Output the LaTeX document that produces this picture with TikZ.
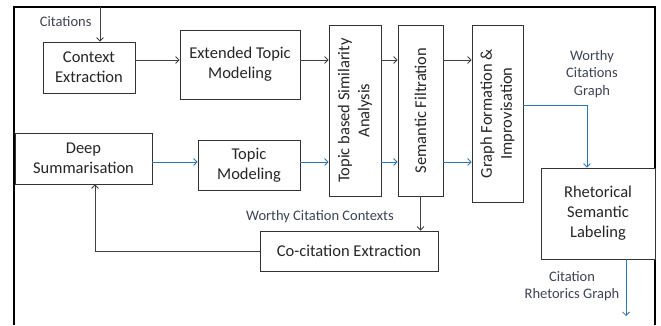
\documentclass[tikz,border=0pt]{standalone}
\usepackage{fontspec}
\setmainfont{Carlito}
\usetikzlibrary{arrows,arrows.meta,calc}
\definecolor{flowblue}{RGB}{46,117,182}
\definecolor{labelgray}{RGB}{62,66,84}

\begin{document}
\begin{tikzpicture}[x=1pt,y=-1pt,
  box/.style={draw=black!80,line width=0.8pt,fill=white,align=center,inner sep=2pt,font=\fontsize{16.5}{20}\selectfont,text=black!85},
  lbl/.style={align=center,text=labelgray,font=\fontsize{14.5}{17.5}\selectfont},
  flow/.style={draw=black!75,line width=0.8pt,-{Straight Barb[length=3.5pt,width=7pt]}},
  blueflow/.style={flow,draw=flowblue}]
\useasboundingbox (0,0) rectangle (661,325);
\draw[line width=1.8pt] (14,325) -- (14,7) -- (655,7) -- (655,325);

\coordinate[] (cite) at (100,7);
\coordinate[] (rowA) at (0,60);
\coordinate[] (rowB) at (0,162);
\coordinate[] (tap) at (587,105);
\coordinate[] (ret) at (95,251);
\coordinate[] (out) at (626,316);

\node[box,minimum width=92,minimum height=51] (ctx) at (89,67.5) {Context\\Extraction};
\node[box,minimum width=120,minimum height=69] (ext) at (240,64.5) {Extended Topic\\Modeling};
\node[box,rotate=90,minimum width=171,minimum height=52] (sim) at (355,110.5) {Topic based Similarity\\Analysis};
\node[box,rotate=90,minimum width=171,minimum height=45] (sem) at (420.5,110.5) {Semantic Filtration};
\node[box,rotate=90,minimum width=177,minimum height=51] (grf) at (497.5,113.5) {Graph Formation \&\\Improvisation};
\node[box,minimum width=137,minimum height=51] (deep) at (83.5,158.5) {Deep\\Summarisation};
\node[box,minimum width=102,minimum height=50] (tpm) at (249,165) {Topic\\Modeling};
\node[box,minimum width=114,minimum height=91] (rhet) at (598,213.5) {Rhetorical\\Semantic\\Labeling};
\node[box,minimum width=178,minimum height=40] (cocit) at (349,251) {Co-citation Extraction};

\node[lbl,anchor=east] (citeLbl) at (95,22) {Citations};
\node[lbl] (wcgLbl) at (592,74) {Worthy\\Citations\\Graph};
\node[lbl] (wccLbl) at (320,217) {Worthy Citation Contexts};
\node[lbl] (crgLbl) at (572,286) {Citation\\Rhetorics Graph};

\draw[flow] (cite) -- (cite |- ctx.north);
\draw[flow] (ctx.east |- rowA) -- (ext.west |- rowA);
\draw[flow] (ext.east |- rowA) -- (sim.north |- rowA);
\draw[flow] (sim.south |- rowA) -- (sem.north |- rowA);
\draw[flow] (sem.south |- rowA) -- (grf.north |- rowA);
\draw[blueflow] (deep.east |- rowB) -- (tpm.west |- rowB);
\draw[blueflow] (tpm.east |- rowB) -- (sim.north |- rowB);
\draw[blueflow] (sim.south |- rowB) -- (sem.north |- rowB);
\draw[blueflow] (sem.south |- rowB) -- (grf.north |- rowB);
\draw[blueflow] (grf.south |- tap) -- (tap) -- (tap |- rhet.north);
\draw[flow] (sem.west) -- (sem.west |- cocit.north);
\draw[flow] (cocit.west) -- (ret) -- (ret |- deep.south);
\draw[blueflow] (rhet.south -| out) -- (out);
\end{tikzpicture}
\end{document}
